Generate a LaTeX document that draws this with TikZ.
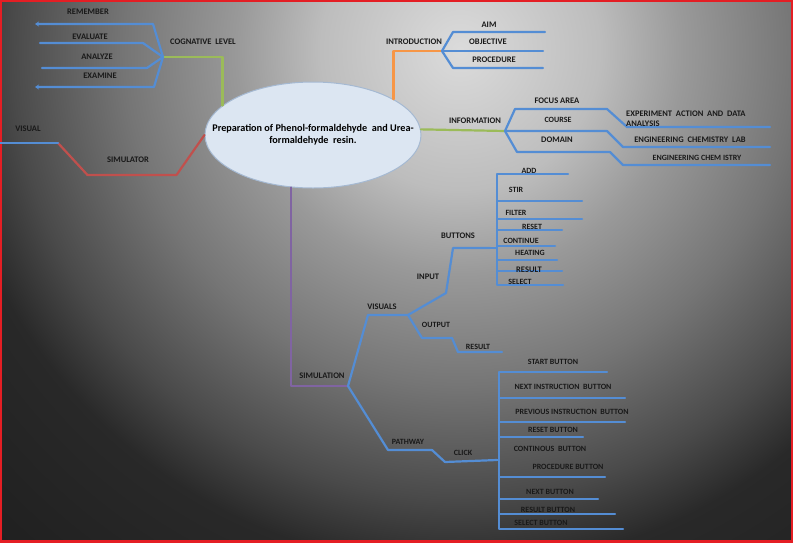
\documentclass[tikz,border=0pt]{standalone}
\usepackage{fontspec}
\setmainfont{Carlito}
\usetikzlibrary{shapes.geometric,arrows.meta}

\definecolor{lineblue}{RGB}{84,141,212}
\definecolor{linegreen}{RGB}{155,187,89}
\definecolor{lineorange}{RGB}{247,150,70}
\definecolor{linered}{RGB}{192,80,77}
\definecolor{linepurple}{RGB}{128,100,162}
\definecolor{ellfill}{RGB}{220,230,242}
\definecolor{elldraw}{RGB}{165,185,210}
\definecolor{borderred}{RGB}{228,30,36}
\definecolor{bgA}{gray}{0.86}
\definecolor{bgB}{gray}{0.74}
\definecolor{bgC}{gray}{0.60}
\definecolor{bgD}{gray}{0.46}
\definecolor{bgE}{gray}{0.29}
\definecolor{bgF}{gray}{0.16}
\definecolor{bgG}{gray}{0.12}
\pgfdeclareradialshading{slidebg}{\pgfpoint{0bp}{0bp}}{color(0bp)=(bgA); color(5bp)=(bgB); color(8bp)=(bgC); color(12bp)=(bgD); color(16bp)=(bgE); color(18.5bp)=(bgF); color(25bp)=(bgG); color(50bp)=(bgG)}

\begin{document}
\begin{tikzpicture}[x=1pt, y=-1pt,
    bline/.style={draw=lineblue, line width=2.2pt, line join=round, line cap=round},
    gline/.style={bline, draw=linegreen},
    oline/.style={bline, draw=lineorange},
    rline/.style={bline, draw=linered},
    pline/.style={bline, draw=linepurple},
    tipped/.style={-{Stealth[length=4pt,width=5pt]}},
    plain/.style={},
    lab/.style={font=\fontsize{8.5}{10}\selectfont\bfseries, text=black!90, inner sep=0pt},
    slab/.style={lab, font=\fontsize{8}{9.5}\selectfont\bfseries},
    topic/.style={ellipse, draw=elldraw, line width=1pt, fill=ellfill, minimum width=216pt,
      minimum height=106pt, inner xsep=-30pt, inner ysep=0pt, align=center,
      font=\fontsize{10.2}{12}\selectfont\bfseries}]
  \useasboundingbox (0,0) rectangle (793,542);
  \begin{scope}
    \clip (0,0) rectangle (793,542);
    \shade[shading=slidebg] (460,50) circle (700);
  \end{scope}
  \draw[borderred, line width=4pt] (0,0) rectangle (793,542);

  \node[topic] (prep) at (313,135) {Preparation of Phenol-formaldehyde \ and Urea-\\formaldehyde \ resin.};

  % cognative level
  \coordinate (cogj) at (163,57);
  \draw[gline] (prep.162) |- (cogj);
  \foreach \n/\xb/\y/\xe/\tip in {rem/153/24/35/tipped, eva/143/43/40/plain, ana/147/68/42/plain, exa/154/87/35/tipped}
    \draw[bline, \tip] (cogj) -- (\xb,\y) -- (\xe,\y) coordinate (\n-end);

  % introduction
  \coordinate (introj) at (442,51);
  \draw[oline] (prep.24) |- (introj);
  \foreach \n/\xb/\y/\xe in {aim/453/32/545, obj/452/51/543, pro/453/68/543}
    \draw[bline] (introj) -- (\xb,\y) -- (\xe,\y) coordinate (\n-end);

  % information
  \coordinate (infoj) at (505,131);
  \draw[gline] (prep.3) -- (infoj);
  \draw[bline] (infoj) -- (515,109) -- (607,109) -- (627,127) -- (770,127) coordinate (exp-end);
  \draw[bline] (infoj) -- (607,131) -- (623,147) -- (770,147) coordinate (lab-end);
  \draw[bline] (infoj) -- (517,152) -- (610,152) -- (623,165) -- (770,165) coordinate (chem-end);

  % simulator
  \coordinate (simrj) at (58,143);
  \draw[rline] (prep.west) -- ++(-28,40) -- ++(-89,0) -- (simrj);
  \draw[bline] (simrj) -- (0,143) coordinate (vis-end);

  % simulation
  \coordinate (simj) at (348,386);
  \coordinate (visj) at (408,315);
  \coordinate (btnj) at (490,248);
  \coordinate (btnt) at (497,248);
  \coordinate (clickj) at (497,460);
  \coordinate (clickt) at (499,460);
  \draw[pline] (prep.247) |- (simj);
  \draw[bline] (simj) -- (368,315) -- (visj);
  \draw[bline] (visj) -- (446,293) -- (453,248) -- (btnj);
  \draw[bline] (visj) -- (422,338) -- (452,338) -- (458,352) -- (502,352) coordinate (out-end);
  \foreach \n/\y/\xe in {add/174/568, stir/201/582, fil/219/582, rst/230/562, con/246/555, hea/260/557, res/271/562, sel/285/563}
    \draw[bline] (btnj) -- (btnt) |- (\xe,\y) coordinate (\n-end);
  \draw[bline] (simj) -- (388,450) -- (432,450) -- (445,462) -- (clickj);
  \foreach \n/\y/\xe in {sta/372/607, nin/398/625, pin/422/625, rbt/437/583, pbt/477/605, nbt/499/598, sbt/514/615, ebt/529/623}
    \draw[bline] (clickj) -- (clickt) |- (\xe,\y) coordinate (\n-end);

  % labels
  \foreach \n/\x/\y/\t in {cog/203/42/COGNATIVE\ \ LEVEL, rem/88/12/REMEMBER, eva/90/37/EVALUATE,
      ana/97/57/ANALYZE, exa/100/76/EXAMINE, intro/414/42/INTRODUCTION, aim/489/25/AIM,
      obj/488/42/OBJECTIVE, pro/494/60/PROCEDURE, info/475/121/INFORMATION, foc/557/101/FOCUS AREA,
      dom/557/140/DOMAIN, lab/690/140/ENGINEERING\ \ CHEMISTRY\ \ LAB, vis/28/129/VISUAL,
      simr/128/160/SIMULATOR, sim/322/376/SIMULATION, visu/382/307/VISUALS, inp/428/277/INPUT,
      btn/458/236/BUTTONS, res/529/270/RESULT}
    \node[lab] (\n) at (\x,\y) {\t};
  \foreach \n/\x/\y/\t in {crs/558/120/COURSE, chem/697/158/ENGINEERING CHEM ISTRY, out/436/325/OUTPUT,
      ores/478/347/RESULT, add/529/171/ADD, stir/516/190/STIR, fil/516/213/FILTER, rst/532/227/RESET,
      con/521/241/CONTINUE, hea/530/253/HEATING, sel/520/282/SELECT, path/408/442/PATHWAY,
      click/463/453/CLICK, sta/553/362/START BUTTON, nin/563/387/NEXT INSTRUCTION\ \ BUTTON,
      pin/572/412/PREVIOUS INSTRUCTION\ \ BUTTON, rbt/553/430/RESET BUTTON,
      cbt/550/449/CONTINOUS\ \ BUTTON, pbt/568/467/PROCEDURE BUTTON, nbt/550/492/NEXT BUTTON,
      sbt/548/510/RESULT BUTTON, ebt/541/523/SELECT BUTTON}
    \node[slab] (\n) at (\x,\y) {\t};
  \node[lab, anchor=west, align=left] (exp) at (626,119) {EXPERIMENT\ \ ACTION\ \ AND\ \ DATA\\ANALYSIS};
\end{tikzpicture}
\end{document}
